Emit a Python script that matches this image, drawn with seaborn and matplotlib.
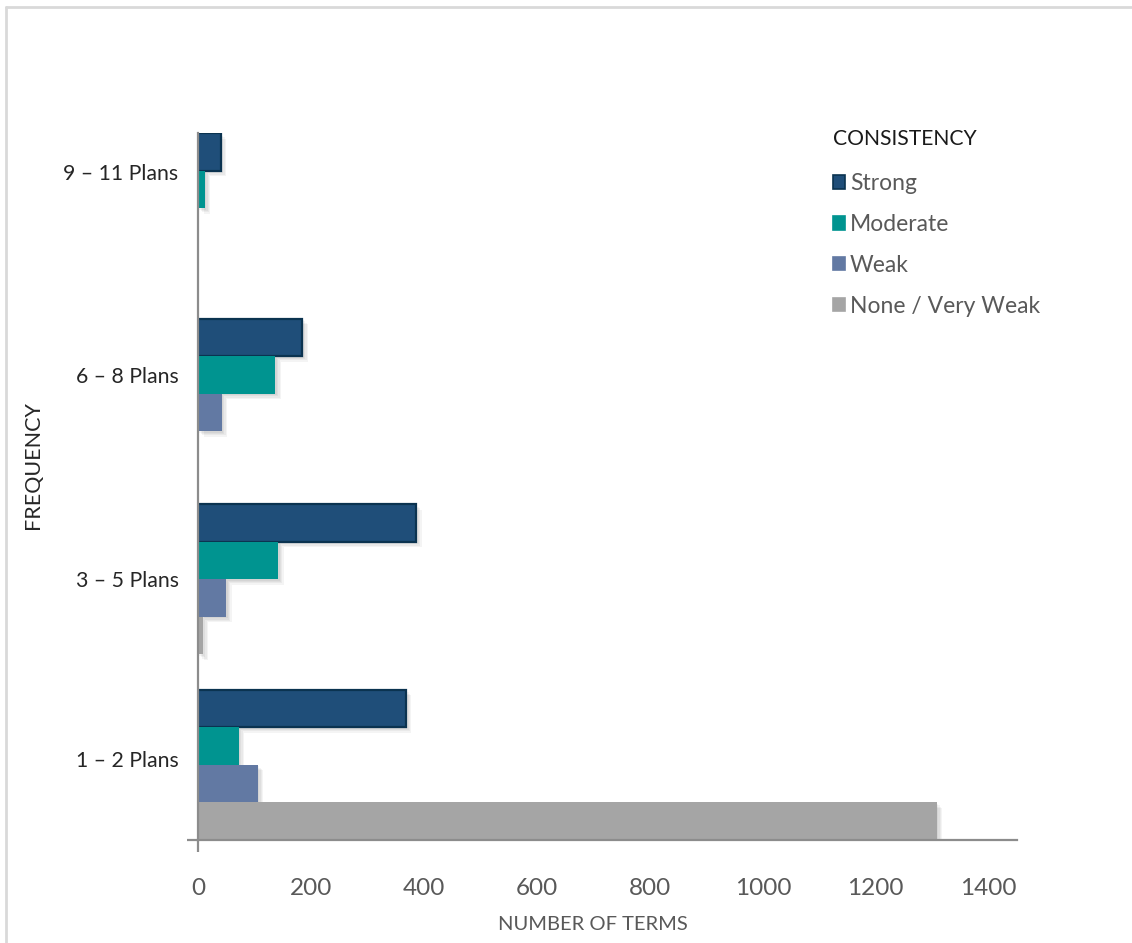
import matplotlib
matplotlib.use("Agg")
import matplotlib.pyplot as plt
import matplotlib.patheffects as pe
from matplotlib.patches import Patch
import numpy as np
import pandas as pd
import seaborn as sns

# Term counts by how many plans they appear in, split by consistency
frequency = ["9 – 11 Plans", "6 – 8 Plans", "3 – 5 Plans", "1 – 2 Plans"]
consistency = ["Strong", "Moderate", "Weak", "None / Very Weak"]
strong = [40, 185, 386, 368]
moderate = [12, 137, 142, 72]
weak = [0, 42, 50, 106]
none_very_weak = [0, 0, 8, 1308]
x_ticks = [0, 200, 400, 600, 800, 1000, 1200, 1400]

colors = ["#1F4E79", "#009490", "#6279A3", "#A5A5A5"]
text_gray = "#595959"
axis_gray = "#8C8C8C"

df = pd.DataFrame({
    "Frequency": np.repeat(frequency, len(consistency)),
    "Consistency": consistency * len(frequency),
    "Terms": np.array([strong, moderate, weak, none_very_weak]).T.ravel(),
})

sns.set_theme(style="white")
plt.rcParams["font.family"] = ["Lato", "DejaVu Sans"]

fig = plt.figure(figsize=(11.32, 9.43), dpi=100)
ax = fig.add_axes([0.1749, 0.1092, 0.7235, 0.7498])

sns.barplot(
    data=df, y="Frequency", x="Terms", hue="Consistency",
    order=frequency, hue_order=consistency, palette=colors,
    orient="h", width=0.81, saturation=1, errorbar=None,
    legend=False, ax=ax,
)

# soft drop shadow built from a few faint offset copies
shadow = [pe.SimplePatchShadow(offset=(k, -k), shadow_rgbFace="black", alpha=0.045)
          for k in (1, 2, 3, 4)] + [pe.Normal()]
for i, cont in enumerate(ax.containers):
    for bar in cont:
        bar.set_path_effects(shadow)
        if i == 0:
            bar.set_edgecolor("#0B3350")
            bar.set_linewidth(1.6)
        else:
            bar.set_linewidth(0)

ax.set_xlim(0, 1450)
ax.set_ylim(3.405, -0.405)
ax.set_xticks(x_ticks)
ax.set_xticklabels([str(t) for t in x_ticks])

# category labels sit slightly above their bar groups
label_shift = [-0.195, -0.10, 0.0, -0.03]
ax.set_yticks([i + s for i, s in enumerate(label_shift)])
ax.set_yticklabels(frequency)

ax.tick_params(axis="x", length=0, pad=27, labelsize=17.5, labelcolor=text_gray)
ax.tick_params(axis="y", length=0, pad=14, labelsize=15.3, labelcolor="#262626")

for side in ("top", "right"):
    ax.spines[side].set_visible(False)
for side in ("left", "bottom"):
    ax.spines[side].set_color(axis_gray)
    ax.spines[side].set_linewidth(1.6)
    ax.spines[side].set_zorder(5)

# small crossing stubs at the axes origin
ax.plot([0, 0], [0, -0.017], transform=ax.transAxes, color=axis_gray,
        lw=1.6, clip_on=False, solid_capstyle="butt")
ax.plot([-0.0134, 0], [0, 0], transform=ax.transAxes, color=axis_gray,
        lw=1.6, clip_on=False, solid_capstyle="butt")

ax.set_xlabel("NUMBER OF TERMS", fontsize=14.5, color=text_gray, va="center")
ax.xaxis.set_label_coords(0.482, -0.120)
ax.set_ylabel("FREQUENCY", fontsize=15.5, color="#262626", va="center")
ax.yaxis.set_label_coords(-0.2015, 0.530)

handles = [Patch(facecolor=c, edgecolor=("#0B3350" if i == 0 else c), linewidth=1.2)
           for i, c in enumerate(colors)]
leg = fig.legend(
    handles, consistency, title="CONSISTENCY",
    loc="upper left", bbox_to_anchor=(0.7355, 0.863),
    frameon=False, fontsize=16.5, title_fontsize=15.2,
    handlelength=0.55, handleheight=0.55, handletextpad=0.2,
    labelspacing=0.87, borderaxespad=0, borderpad=0,
)
leg._legend_box.align = "left"
leg._legend_box.sep = 17
for t in leg.get_texts():
    t.set_color(text_gray)
leg.get_title().set_color("#1A1A1A")

# light outer frame of the chart area
fig.add_artist(plt.Line2D([0.0055, 0.0055], [0.0, 0.9925], color="#D9D9D9", lw=2,
                          transform=fig.transFigure))
fig.add_artist(plt.Line2D([0.0055, 1.0], [0.9925, 0.9925], color="#D9D9D9", lw=2,
                          transform=fig.transFigure))

fig.savefig("out.png", dpi=100, facecolor="white")
